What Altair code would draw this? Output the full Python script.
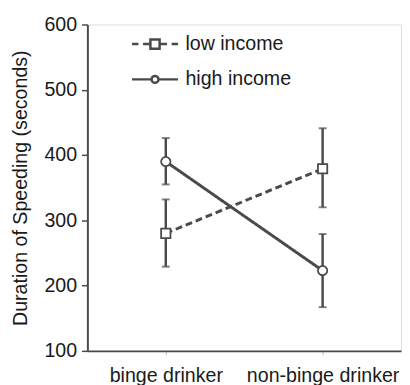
import altair as alt
import pandas as pd

categories = ["binge drinker", "non-binge drinker"]
groups = ["low income", "high income"]
low_mean = [280, 379]
low_lower = [229, 320]
low_upper = [332, 441]
high_mean = [390, 223]
high_lower = [355, 167]
high_upper = [426, 279]
y_ticks = [100, 200, 300, 400, 500, 600]

rows = []
for g, m, lo, hi in [(groups[0], low_mean, low_lower, low_upper),
                     (groups[1], high_mean, high_lower, high_upper)]:
    for c, mv, l, h in zip(categories, m, lo, hi):
        rows.append({"drinker": c, "income": g, "mean": mv, "lo": l, "hi": h})
df = pd.DataFrame(rows)

LINE = "#4a4a4a"
TEXT = "#1a1a1a"
FONT = "Liberation Sans"
TITLE = "Duration of Speeding (seconds)"

yscale = alt.Scale(domain=[100, 600], nice=False, zero=False)
yaxis = alt.Axis(title=TITLE, values=y_ticks, grid=False, tickSize=6, tickWidth=1.5,
                 tickColor=LINE, domainColor=LINE, domainWidth=2,
                 labelFontSize=20, labelPadding=5, labelColor=TEXT, labelFont=FONT,
                 titleFontSize=20, titleFont=FONT, titleFontWeight="normal",
                 titleColor=TEXT, titlePadding=14)
x = alt.X("drinker:N", sort=categories,
          scale=alt.Scale(type="point", padding=0.5),
          axis=alt.Axis(title=None, labelAngle=0, labelFontSize=20, labelFont=FONT,
                        labelColor=TEXT, labelPadding=11, tickSize=4, tickWidth=1,
                        tickColor="#bbbbbb", domainColor=LINE, domainWidth=2, grid=False))

base = alt.Chart(df)

rules = base.mark_rule(color=LINE, strokeWidth=2.5).encode(
    x=x, y=alt.Y("lo:Q", scale=yscale, axis=yaxis), y2="hi:Q")
cap_lo = base.mark_tick(color=LINE, orient="horizontal", size=8, thickness=2).encode(
    x=x, y=alt.Y("lo:Q", scale=yscale, axis=yaxis))
cap_hi = base.mark_tick(color=LINE, orient="horizontal", size=8, thickness=2).encode(
    x=x, y=alt.Y("hi:Q", scale=yscale, axis=yaxis))

lines = base.mark_line(color=LINE, strokeWidth=3).encode(
    x=x, y=alt.Y("mean:Q", scale=yscale, axis=yaxis),
    detail="income:N",
    strokeDash=alt.StrokeDash("income:N", scale=alt.Scale(domain=groups, range=[[7, 4], [1, 0]]),
                              legend=None))

points = base.mark_point(filled=True, fill="white", stroke=LINE, strokeWidth=1.8, size=90, opacity=1).encode(
    x=x, y=alt.Y("mean:Q", scale=yscale, axis=yaxis),
    shape=alt.Shape("income:N", scale=alt.Scale(domain=groups, range=["square", "circle"]), legend=None))

low_path = "M-1,0H-0.72M-0.52,0H-0.2M-0.2,-0.2H0.2V0.2H-0.2ZM0.2,0H0.52M0.72,0H1"
high_path = "M-1,0H-0.15M0.15,0H1M-0.15,0A0.15,0.15,0,1,0,0.15,0A0.15,0.15,0,1,0,-0.15,0Z"

legend_layer = base.mark_point(opacity=0).encode(
    x=x, y=alt.Y("mean:Q", scale=yscale, axis=yaxis),
    shape=alt.Shape("income:N", scale=alt.Scale(domain=groups, range=[low_path, high_path]),
                    legend=alt.Legend(orient="none", legendX=44, legendY=-5, title=None,
                                      symbolSize=2209, symbolStrokeWidth=2.5,
                                      symbolStrokeColor=LINE, symbolFillColor="white",
                                      symbolOpacity=1, labelFontSize=20, labelFont=FONT,
                                      labelColor=TEXT, labelOffset=6, rowPadding=1,
                                      padding=0)))

chart = alt.layer(rules, cap_lo, cap_hi, lines, points, legend_layer).resolve_scale(
    shape="independent"
).properties(
    width=320, height=333,
    autosize=alt.AutoSizeParams(type="none"),
    padding={"left": 81, "top": 13, "right": 1, "bottom": 31},
).configure_view(stroke=None).configure(background="white")

chart.save("out.html", embed_options={"renderer": "svg", "actions": False})
